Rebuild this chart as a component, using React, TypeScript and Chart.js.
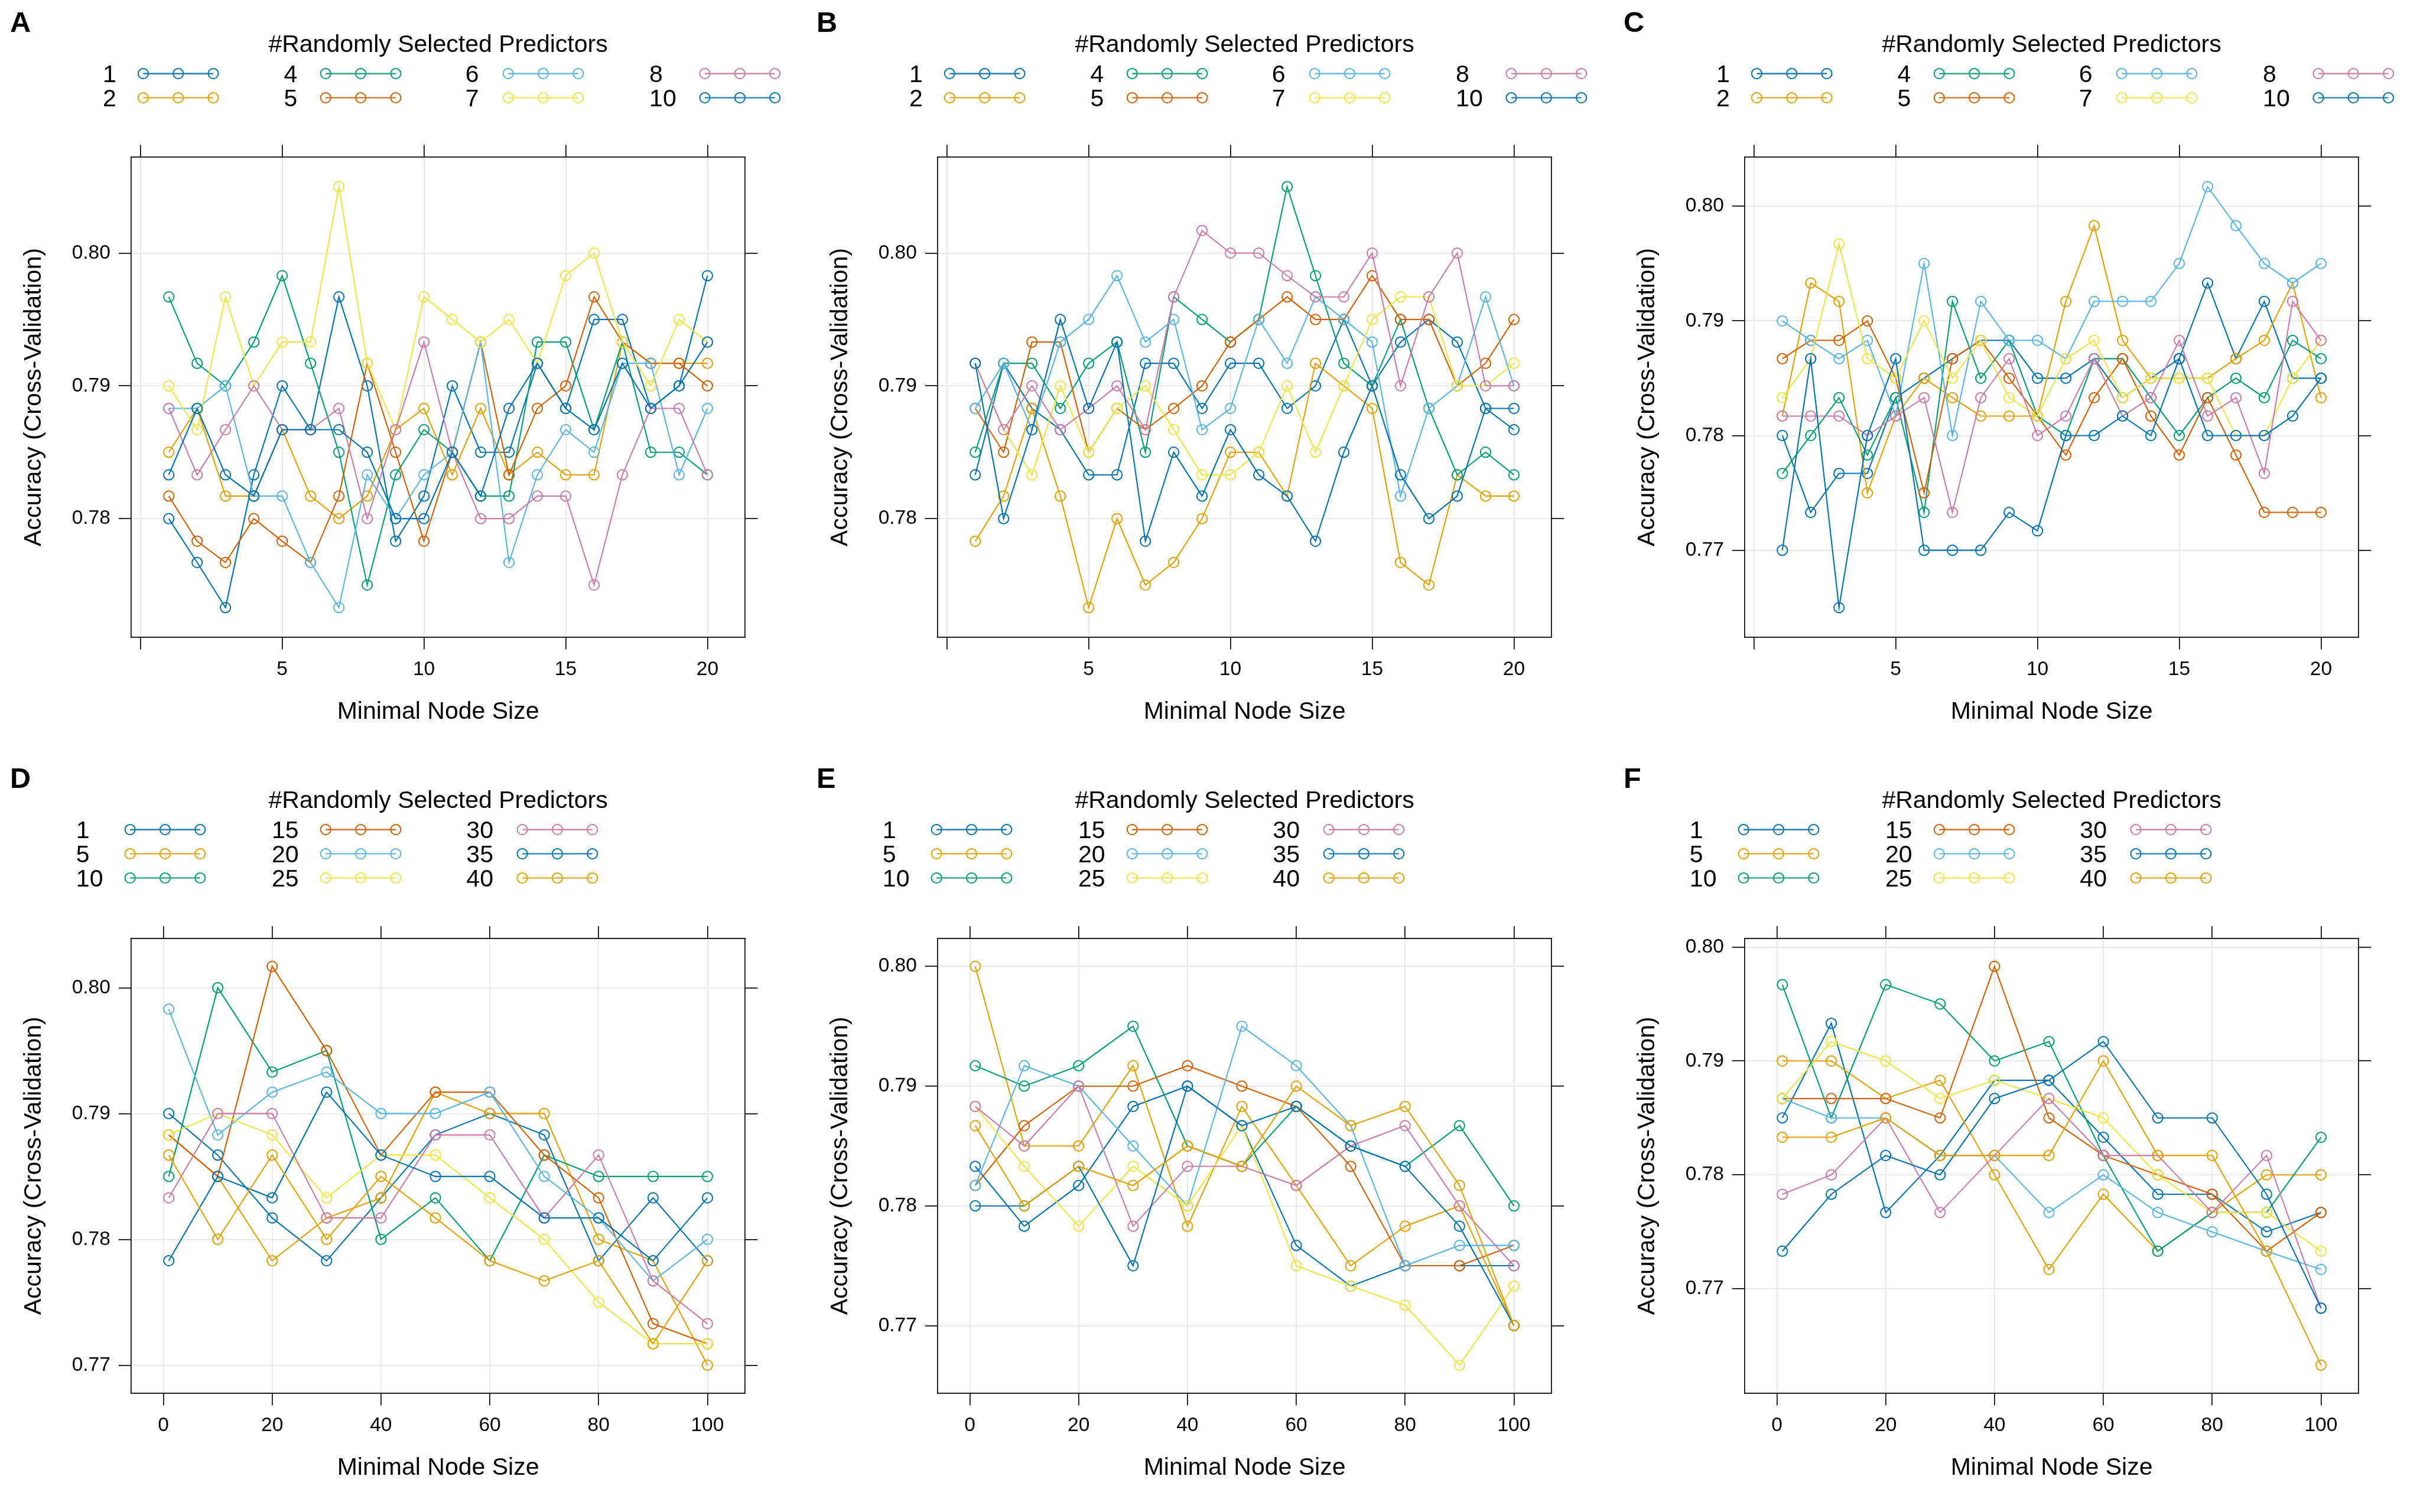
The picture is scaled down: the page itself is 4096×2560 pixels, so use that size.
import React, { useEffect, useRef } from "react";
import { Chart, registerables } from "chart.js";

Chart.register(...registerables);

const SCALE = 4096 / 4800;
const FONT = "'Liberation Sans', Arial, Helvetica, sans-serif";

const BLUE = "#0072B2";
const ORANGE = "#E69F00";
const GREEN = "#009E73";
const VERMILLION = "#D55E00";
const SKY = "#56B4E9";
const YELLOW = "#F0E442";
const PINK = "#CC79A7";
const GRID = "#E6E6E6";

// ---- x values / ticks / labels ----
const nodeSizeSmall = [1, 2, 3, 4, 5, 6, 7, 8, 9, 10, 11, 12, 13, 14, 15, 16, 17, 18, 19, 20];
const nodeSizeLarge = [1, 10, 20, 30, 40, 50, 60, 70, 80, 90, 100];
const xTicksSmall = [0, 5, 10, 15, 20];
const xTicksLarge = [0, 20, 40, 60, 80, 100];
const yTicksAll = [0.77, 0.78, 0.79, 0.8];
const predictorsSmall = ["1", "2", "4", "5", "6", "7", "8", "10"];
const predictorsLarge = ["1", "5", "10", "15", "20", "25", "30", "35", "40"];
const paletteSmall = [BLUE, ORANGE, GREEN, VERMILLION, SKY, YELLOW, PINK, BLUE];
const paletteLarge = [BLUE, ORANGE, GREEN, VERMILLION, SKY, YELLOW, PINK, BLUE, ORANGE];

// ---- Panel A ----
const accA_1 = [0.7800, 0.7767, 0.7733, 0.7833, 0.7900, 0.7867, 0.7967, 0.7900, 0.7783, 0.7817, 0.7900, 0.7850, 0.7850, 0.7917, 0.7883, 0.7950, 0.7950, 0.7883, 0.7900, 0.7983];
const accA_2 = [0.7850, 0.7883, 0.7817, 0.7817, 0.7867, 0.7817, 0.7800, 0.7817, 0.7867, 0.7883, 0.7833, 0.7883, 0.7833, 0.7850, 0.7833, 0.7833, 0.7933, 0.7917, 0.7917, 0.7917];
const accA_4 = [0.7967, 0.7917, 0.7900, 0.7933, 0.7983, 0.7917, 0.7850, 0.7750, 0.7833, 0.7867, 0.7850, 0.7817, 0.7817, 0.7933, 0.7933, 0.7867, 0.7933, 0.7850, 0.7850, 0.7833];
const accA_5 = [0.7817, 0.7783, 0.7767, 0.7800, 0.7783, 0.7767, 0.7817, 0.7917, 0.7850, 0.7783, 0.7850, 0.7933, 0.7833, 0.7883, 0.7900, 0.7967, 0.7933, 0.7917, 0.7917, 0.7900];
const accA_6 = [0.7883, 0.7883, 0.7900, 0.7817, 0.7817, 0.7767, 0.7733, 0.7833, 0.7800, 0.7833, 0.7850, 0.7933, 0.7767, 0.7833, 0.7867, 0.7850, 0.7917, 0.7917, 0.7833, 0.7883];
const accA_7 = [0.7900, 0.7867, 0.7967, 0.7900, 0.7933, 0.7933, 0.8050, 0.7917, 0.7867, 0.7967, 0.7950, 0.7933, 0.7950, 0.7917, 0.7983, 0.8000, 0.7933, 0.7900, 0.7950, 0.7933];
const accA_8 = [0.7883, 0.7833, 0.7867, 0.7900, 0.7867, 0.7867, 0.7883, 0.7800, 0.7867, 0.7933, 0.7850, 0.7800, 0.7800, 0.7817, 0.7817, 0.7750, 0.7833, 0.7883, 0.7883, 0.7833];
const accA_10 = [0.7833, 0.7883, 0.7833, 0.7817, 0.7867, 0.7867, 0.7867, 0.7850, 0.7800, 0.7800, 0.7850, 0.7817, 0.7883, 0.7917, 0.7883, 0.7867, 0.7917, 0.7883, 0.7900, 0.7933];

// ---- Panel B ----
const accB_1 = [0.7833, 0.7917, 0.7883, 0.7867, 0.7833, 0.7833, 0.7917, 0.7917, 0.7883, 0.7917, 0.7917, 0.7883, 0.7900, 0.7950, 0.7900, 0.7933, 0.7950, 0.7933, 0.7883, 0.7867];
const accB_2 = [0.7783, 0.7817, 0.7883, 0.7817, 0.7733, 0.7800, 0.7750, 0.7767, 0.7800, 0.7850, 0.7850, 0.7817, 0.7917, 0.7900, 0.7883, 0.7767, 0.7750, 0.7833, 0.7817, 0.7817];
const accB_4 = [0.7850, 0.7917, 0.7917, 0.7883, 0.7917, 0.7933, 0.7850, 0.7967, 0.7950, 0.7933, 0.7950, 0.8050, 0.7983, 0.7917, 0.7900, 0.7950, 0.7883, 0.7833, 0.7850, 0.7833];
const accB_5 = [0.7883, 0.7850, 0.7933, 0.7933, 0.7850, 0.7883, 0.7867, 0.7883, 0.7900, 0.7933, 0.7950, 0.7967, 0.7950, 0.7950, 0.7983, 0.7950, 0.7950, 0.7900, 0.7917, 0.7950];
const accB_6 = [0.7883, 0.7917, 0.7867, 0.7933, 0.7950, 0.7983, 0.7933, 0.7950, 0.7867, 0.7883, 0.7950, 0.7917, 0.7967, 0.7950, 0.7933, 0.7817, 0.7883, 0.7900, 0.7967, 0.7900];
const accB_7 = [0.7917, 0.7867, 0.7833, 0.7900, 0.7850, 0.7883, 0.7900, 0.7867, 0.7833, 0.7833, 0.7850, 0.7900, 0.7850, 0.7900, 0.7950, 0.7967, 0.7967, 0.7900, 0.7900, 0.7917];
const accB_8 = [0.7917, 0.7867, 0.7900, 0.7867, 0.7883, 0.7900, 0.7867, 0.7967, 0.8017, 0.8000, 0.8000, 0.7983, 0.7967, 0.7967, 0.8000, 0.7900, 0.7967, 0.8000, 0.7900, 0.7900];
const accB_10 = [0.7917, 0.7800, 0.7867, 0.7950, 0.7883, 0.7933, 0.7783, 0.7850, 0.7817, 0.7867, 0.7833, 0.7817, 0.7783, 0.7850, 0.7900, 0.7833, 0.7800, 0.7817, 0.7883, 0.7883];

// ---- Panel C ----
const accC_1 = [0.7800, 0.7733, 0.7767, 0.7767, 0.7833, 0.7850, 0.7867, 0.7883, 0.7883, 0.7850, 0.7850, 0.7867, 0.7833, 0.7850, 0.7867, 0.7933, 0.7867, 0.7917, 0.7850, 0.7850];
const accC_2 = [0.7817, 0.7933, 0.7917, 0.7750, 0.7817, 0.7850, 0.7833, 0.7817, 0.7817, 0.7817, 0.7917, 0.7983, 0.7883, 0.7850, 0.7850, 0.7850, 0.7867, 0.7883, 0.7933, 0.7833];
const accC_4 = [0.7767, 0.7800, 0.7833, 0.7783, 0.7833, 0.7733, 0.7917, 0.7850, 0.7883, 0.7817, 0.7800, 0.7867, 0.7867, 0.7833, 0.7800, 0.7833, 0.7850, 0.7833, 0.7883, 0.7867];
const accC_5 = [0.7867, 0.7883, 0.7883, 0.7900, 0.7850, 0.7750, 0.7867, 0.7883, 0.7850, 0.7817, 0.7783, 0.7833, 0.7867, 0.7817, 0.7783, 0.7833, 0.7783, 0.7733, 0.7733, 0.7733];
const accC_6 = [0.7900, 0.7883, 0.7867, 0.7883, 0.7817, 0.7950, 0.7800, 0.7917, 0.7883, 0.7883, 0.7867, 0.7917, 0.7917, 0.7917, 0.7950, 0.8017, 0.7983, 0.7950, 0.7933, 0.7950];
const accC_7 = [0.7833, 0.7867, 0.7967, 0.7867, 0.7850, 0.7900, 0.7850, 0.7883, 0.7833, 0.7817, 0.7867, 0.7883, 0.7833, 0.7850, 0.7850, 0.7850, 0.7800, 0.7800, 0.7850, 0.7883];
const accC_8 = [0.7817, 0.7817, 0.7817, 0.7800, 0.7817, 0.7833, 0.7733, 0.7833, 0.7867, 0.7800, 0.7817, 0.7867, 0.7817, 0.7833, 0.7883, 0.7817, 0.7833, 0.7767, 0.7917, 0.7883];
const accC_10 = [0.7700, 0.7867, 0.7650, 0.7800, 0.7867, 0.7700, 0.7700, 0.7700, 0.7733, 0.7717, 0.7800, 0.7800, 0.7817, 0.7800, 0.7867, 0.7800, 0.7800, 0.7800, 0.7817, 0.7850];

// ---- Panel D ----
const accD_1 = [0.7900, 0.7867, 0.7817, 0.7783, 0.7833, 0.7883, 0.7900, 0.7883, 0.7783, 0.7833, 0.7783];
const accD_5 = [0.7883, 0.7850, 0.7783, 0.7817, 0.7833, 0.7917, 0.7900, 0.7900, 0.7800, 0.7783, 0.7700];
const accD_10 = [0.7850, 0.8000, 0.7933, 0.7950, 0.7800, 0.7833, 0.7783, 0.7867, 0.7850, 0.7850, 0.7850];
const accD_15 = [0.7883, 0.7850, 0.8017, 0.7950, 0.7867, 0.7917, 0.7917, 0.7867, 0.7833, 0.7733, 0.7717];
const accD_20 = [0.7983, 0.7883, 0.7917, 0.7933, 0.7900, 0.7900, 0.7917, 0.7850, 0.7817, 0.7767, 0.7800];
const accD_25 = [0.7883, 0.7900, 0.7883, 0.7833, 0.7867, 0.7867, 0.7833, 0.7800, 0.7750, 0.7717, 0.7717];
const accD_30 = [0.7833, 0.7900, 0.7900, 0.7817, 0.7817, 0.7883, 0.7883, 0.7817, 0.7867, 0.7767, 0.7733];
const accD_35 = [0.7783, 0.7850, 0.7833, 0.7917, 0.7867, 0.7850, 0.7850, 0.7817, 0.7817, 0.7783, 0.7833];
const accD_40 = [0.7867, 0.7800, 0.7867, 0.7800, 0.7850, 0.7817, 0.7783, 0.7767, 0.7783, 0.7717, 0.7783];

// ---- Panel E ----
const accE_1 = [0.7833, 0.7783, 0.7817, 0.7883, 0.7900, 0.7867, 0.7767, 0.7733, 0.7750, 0.7750, 0.7750];
const accE_5 = [0.8000, 0.7850, 0.7850, 0.7917, 0.7783, 0.7883, 0.7817, 0.7750, 0.7783, 0.7800, 0.7700];
const accE_10 = [0.7917, 0.7900, 0.7917, 0.7950, 0.7850, 0.7833, 0.7883, 0.7850, 0.7833, 0.7867, 0.7800];
const accE_15 = [0.7817, 0.7867, 0.7900, 0.7900, 0.7917, 0.7900, 0.7883, 0.7833, 0.7750, 0.7750, 0.7767];
const accE_20 = [0.7817, 0.7917, 0.7900, 0.7850, 0.7800, 0.7950, 0.7917, 0.7867, 0.7750, 0.7767, 0.7767];
const accE_25 = [0.7883, 0.7833, 0.7783, 0.7833, 0.7800, 0.7867, 0.7750, 0.7733, 0.7717, 0.7667, 0.7733];
const accE_30 = [0.7883, 0.7850, 0.7900, 0.7783, 0.7833, 0.7833, 0.7817, 0.7850, 0.7867, 0.7800, 0.7750];
const accE_35 = [0.7800, 0.7800, 0.7833, 0.7750, 0.7900, 0.7867, 0.7883, 0.7850, 0.7833, 0.7783, 0.7700];
const accE_40 = [0.7867, 0.7800, 0.7833, 0.7817, 0.7850, 0.7833, 0.7900, 0.7867, 0.7883, 0.7817, 0.7700];

// ---- Panel F ----
const accF_1 = [0.7850, 0.7933, 0.7767, 0.7817, 0.7883, 0.7883, 0.7833, 0.7783, 0.7783, 0.7750, 0.7767];
const accF_5 = [0.7900, 0.7900, 0.7867, 0.7883, 0.7800, 0.7717, 0.7783, 0.7733, 0.7767, 0.7800, 0.7800];
const accF_10 = [0.7967, 0.7850, 0.7967, 0.7950, 0.7900, 0.7917, 0.7817, 0.7733, 0.7767, 0.7767, 0.7833];
const accF_15 = [0.7867, 0.7867, 0.7867, 0.7850, 0.7983, 0.7850, 0.7817, 0.7800, 0.7783, 0.7733, 0.7767];
const accF_20 = [0.7867, 0.7850, 0.7850, 0.7817, 0.7817, 0.7767, 0.7800, 0.7767, 0.7750, 0.7733, 0.7717];
const accF_25 = [0.7867, 0.7917, 0.7900, 0.7867, 0.7883, 0.7867, 0.7850, 0.7800, 0.7767, 0.7767, 0.7733];
const accF_30 = [0.7783, 0.7800, 0.7850, 0.7767, 0.7817, 0.7867, 0.7817, 0.7817, 0.7767, 0.7817, 0.7683];
const accF_35 = [0.7733, 0.7783, 0.7817, 0.7800, 0.7867, 0.7883, 0.7917, 0.7850, 0.7850, 0.7783, 0.7683];
const accF_40 = [0.7833, 0.7833, 0.7850, 0.7817, 0.7817, 0.7817, 0.7900, 0.7817, 0.7817, 0.7733, 0.7633];

type PanelCfg = {
  letter: string;
  x: number[];
  xTicks: number[];
  hideZeroLabel: boolean;
  names: string[];
  colors: string[];
  series: number[][];
  rows: number;
};

const panels: PanelCfg[] = [
  { letter: "A", x: nodeSizeSmall, xTicks: xTicksSmall, hideZeroLabel: true, names: predictorsSmall, colors: paletteSmall, rows: 2,
    series: [accA_1, accA_2, accA_4, accA_5, accA_6, accA_7, accA_8, accA_10] },
  { letter: "B", x: nodeSizeSmall, xTicks: xTicksSmall, hideZeroLabel: true, names: predictorsSmall, colors: paletteSmall, rows: 2,
    series: [accB_1, accB_2, accB_4, accB_5, accB_6, accB_7, accB_8, accB_10] },
  { letter: "C", x: nodeSizeSmall, xTicks: xTicksSmall, hideZeroLabel: true, names: predictorsSmall, colors: paletteSmall, rows: 2,
    series: [accC_1, accC_2, accC_4, accC_5, accC_6, accC_7, accC_8, accC_10] },
  { letter: "D", x: nodeSizeLarge, xTicks: xTicksLarge, hideZeroLabel: false, names: predictorsLarge, colors: paletteLarge, rows: 3,
    series: [accD_1, accD_5, accD_10, accD_15, accD_20, accD_25, accD_30, accD_35, accD_40] },
  { letter: "E", x: nodeSizeLarge, xTicks: xTicksLarge, hideZeroLabel: false, names: predictorsLarge, colors: paletteLarge, rows: 3,
    series: [accE_1, accE_5, accE_10, accE_15, accE_20, accE_25, accE_30, accE_35, accE_40] },
  { letter: "F", x: nodeSizeLarge, xTicks: xTicksLarge, hideZeroLabel: false, names: predictorsLarge, colors: paletteLarge, rows: 3,
    series: [accF_1, accF_5, accF_10, accF_15, accF_20, accF_25, accF_30, accF_35, accF_40] },
];

// layout in reference (4800x3000) units, relative to a 1600x1500 panel
const BOX_LEFT = 260;
const BOX_RIGHT = 1478;
const BOX_BOTTOM = 1264;
const BOX_TOP_2ROWS = 312;
const BOX_TOP_3ROWS = 362;
const LEGEND_SMALL = { labelX: [204, 563, 923, 1288], symX: [284, 646, 1008, 1398] };
const LEGEND_LARGE = { labelX: [151, 539, 925], symX: [258, 646, 1036] };
const SYM_LEN = 139;
const ROW0 = 146;
const ROW_GAP = 48;

const TICK_FONT = 33.5;
const TEXT_FONT = 41;
const LINE_W = 2.1;
const POINT_W = 2.0;
const POINT_R = 8.6;

function makeDecor(cfg: PanelCfg) {
  return {
    id: "decor" + cfg.letter,
    afterDraw(chart: any) {
      const ctx = chart.ctx as CanvasRenderingContext2D;
      const area = chart.chartArea;
      ctx.save();
      ctx.fillStyle = "#000";
      ctx.textAlign = "left";
      ctx.textBaseline = "alphabetic";
      ctx.font = `bold ${57 * SCALE}px ${FONT}`;
      ctx.fillText(cfg.letter, 20 * SCALE, 63 * SCALE);
      ctx.font = `${TEXT_FONT}px ${FONT}`;
      ctx.textAlign = "center";
      ctx.fillText("#Randomly Selected Predictors", (area.left + area.right) / 2, 103 * SCALE);
      const geo = cfg.rows === 2 ? LEGEND_SMALL : LEGEND_LARGE;
      ctx.textAlign = "left";
      cfg.names.forEach((name, i) => {
        const col = Math.floor(i / cfg.rows);
        const row = i % cfg.rows;
        const cy = (ROW0 + ROW_GAP * row) * SCALE;
        ctx.fillStyle = "#000";
        ctx.fillText(name, geo.labelX[col] * SCALE, cy + 0.358 * TEXT_FONT);
        const x0 = geo.symX[col] * SCALE;
        const x1 = (geo.symX[col] + SYM_LEN) * SCALE;
        ctx.strokeStyle = cfg.colors[i];
        ctx.lineWidth = LINE_W;
        ctx.beginPath();
        ctx.moveTo(x0, cy);
        ctx.lineTo(x1, cy);
        ctx.stroke();
        ctx.lineWidth = POINT_W;
        [x0, (x0 + x1) / 2, x1].forEach((cx) => {
          ctx.beginPath();
          ctx.arc(cx, cy, POINT_R, 0, Math.PI * 2);
          ctx.stroke();
        });
      });
      ctx.restore();
    },
  };
}

function Panel({ cfg, left, top, width, height }: { cfg: PanelCfg; left: number; top: number; width: number; height: number }) {
  const ref = useRef<HTMLCanvasElement>(null);
  useEffect(() => {
    if (!ref.current) return;
    const all = cfg.series.flat();
    const yLo = Math.min(...all);
    const yHi = Math.max(...all);
    const yPad = 0.07 * (yHi - yLo);
    const yMin = yLo - yPad;
    const yMax = yHi + yPad;
    const xLo = cfg.x[0];
    const xHi = cfg.x[cfg.x.length - 1];
    const xPad = 0.07 * (xHi - xLo);
    const xMin = xLo - xPad;
    const xMax = xHi + xPad;
    const yTicks = yTicksAll.filter((v) => v >= yMin && v <= yMax);
    const boxTop = (cfg.rows === 2 ? BOX_TOP_2ROWS : BOX_TOP_3ROWS) * SCALE;

    const tickGrid = { color: GRID, lineWidth: 1.7, drawTicks: true, tickLength: 21, tickColor: "#000", tickWidth: 1.7 };
    const border = { display: true, color: "#000", width: 1.7 };

    const datasets = cfg.series.map((vals, i) => ({
      label: cfg.names[i],
      data: cfg.x.map((xv, j) => ({ x: xv, y: vals[j] })),
      borderColor: cfg.colors[i],
      borderWidth: LINE_W,
      pointStyle: "circle",
      pointRadius: POINT_R,
      pointBorderWidth: POINT_W,
      pointBorderColor: cfg.colors[i],
      pointBackgroundColor: "rgba(0,0,0,0)",
      fill: false,
      tension: 0,
      order: -i,
      xAxisID: "x",
      yAxisID: "y",
    }));

    const chart = new Chart(ref.current, {
      type: "line",
      data: { datasets } as any,
      options: {
        animation: false,
        responsive: false,
        devicePixelRatio: 1,
        events: [],
        layout: { padding: 0, autoPadding: false } as any,
        plugins: { legend: { display: false }, tooltip: { enabled: false }, title: { display: false } },
        scales: {
          x: {
            type: "linear",
            position: "bottom",
            bounds: "data",
            min: xMin,
            max: xMax,
            afterBuildTicks: (s: any) => { s.ticks = cfg.xTicks.map((v) => ({ value: v })); },
            afterFit: (s: any) => { s.height = s.chart.height - BOX_BOTTOM * SCALE; },
            grid: { ...tickGrid, drawOnChartArea: true },
            border,
            ticks: {
              color: "#000",
              font: { family: FONT, size: TICK_FONT },
              padding: 14,
              maxRotation: 0,
              autoSkip: false,
              callback: (v: any) => (cfg.hideZeroLabel && Number(v) === 0 ? "" : String(v)),
            },
            title: { display: true, text: "Minimal Node Size", color: "#000", font: { family: FONT, size: TEXT_FONT }, padding: { top: 0, bottom: 50 } },
          },
          x2: {
            type: "linear",
            position: "top",
            bounds: "data",
            min: xMin,
            max: xMax,
            afterBuildTicks: (s: any) => { s.ticks = cfg.xTicks.map((v) => ({ value: v })); },
            afterFit: (s: any) => { s.height = boxTop; },
            grid: { ...tickGrid, drawOnChartArea: false },
            border,
            ticks: { display: false },
          },
          y: {
            type: "linear",
            position: "left",
            bounds: "data",
            min: yMin,
            max: yMax,
            afterBuildTicks: (s: any) => { s.ticks = yTicks.map((v) => ({ value: v })); },
            afterFit: (s: any) => { s.width = BOX_LEFT * SCALE; },
            grid: { ...tickGrid, drawOnChartArea: true },
            border,
            ticks: {
              color: "#000",
              font: { family: FONT, size: TICK_FONT },
              padding: 14,
              autoSkip: false,
              callback: (v: any) => Number(v).toFixed(2),
            },
            title: { display: true, text: "Accuracy (Cross-Validation)", color: "#000", font: { family: FONT, size: TEXT_FONT }, padding: { top: 33, bottom: 0 } },
          },
          y2: {
            type: "linear",
            position: "right",
            bounds: "data",
            min: yMin,
            max: yMax,
            afterBuildTicks: (s: any) => { s.ticks = yTicks.map((v) => ({ value: v })); },
            afterFit: (s: any) => { s.width = s.chart.width - BOX_RIGHT * SCALE; },
            grid: { ...tickGrid, drawOnChartArea: false },
            border,
            ticks: { display: false },
          },
        },
      } as any,
      plugins: [makeDecor(cfg)],
    });
    return () => chart.destroy();
  }, [cfg]);
  return (
    <div style={{ position: "absolute", left, top, width, height }}>
      <canvas ref={ref} width={width} height={height} style={{ width, height, display: "block" }} />
    </div>
  );
}

export default function App() {
  const W = 4096;
  const H = 2560;
  const pw = Math.round(W / 3);
  const ph = H / 2;
  return (
    <div style={{ position: "fixed", left: 0, top: 0, width: W, height: H, background: "#fff", overflow: "hidden" }}>
      {panels.map((cfg, i) => {
        const col = i % 3;
        const row = Math.floor(i / 3);
        const left = Math.round((col * W) / 3);
        return <Panel key={cfg.letter} cfg={cfg} left={left} top={row * ph} width={pw} height={ph} />;
      })}
    </div>
  );
}
